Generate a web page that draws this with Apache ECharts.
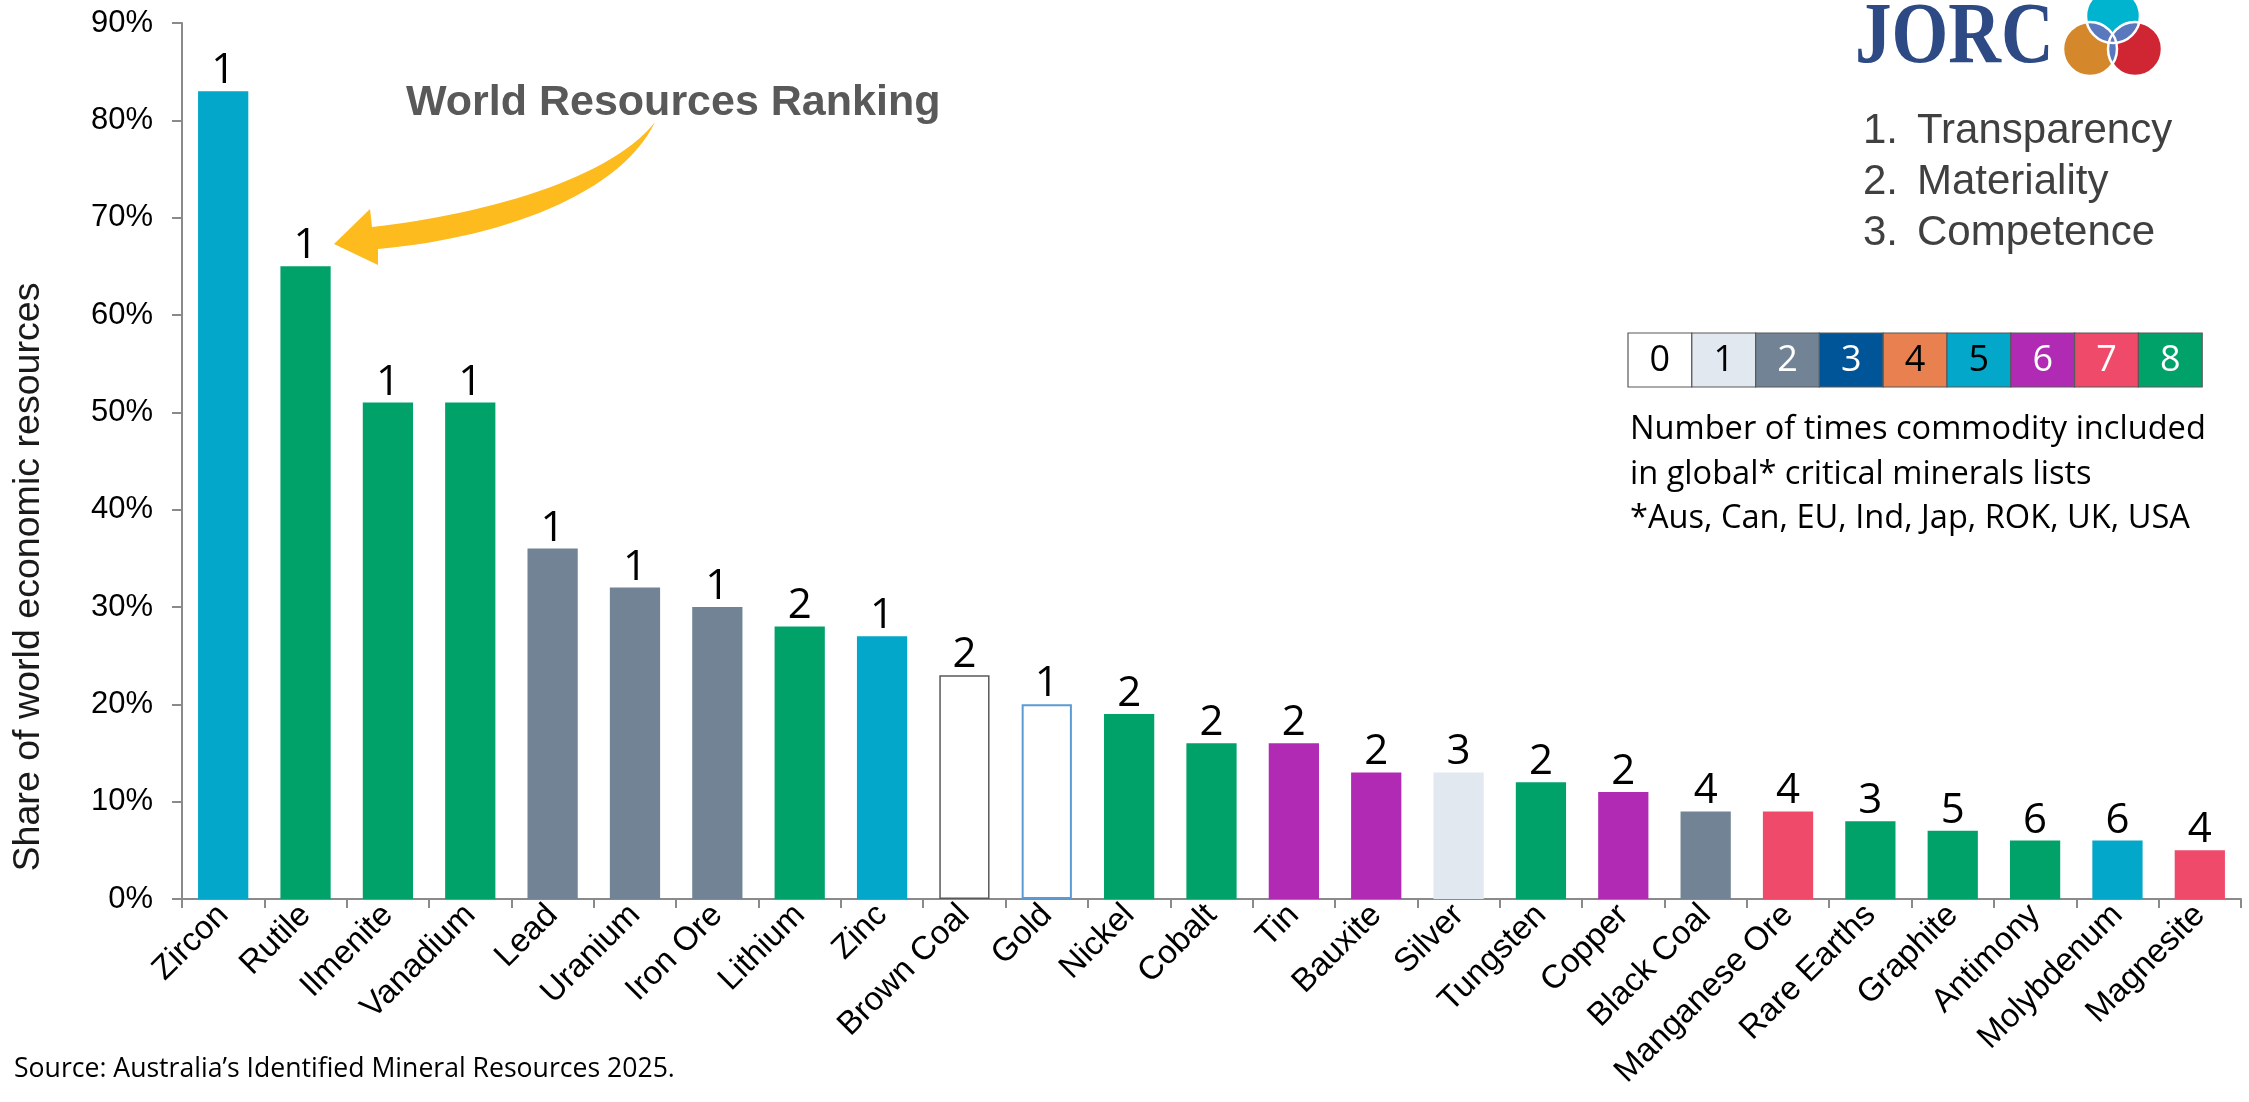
<!DOCTYPE html>
<html><head><meta charset="utf-8">
<script src="https://cdn.jsdelivr.net/npm/echarts@6/dist/echarts.min.js"></script>
<style>html,body{margin:0;padding:0;background:#fff}#c{width:2249px;height:1102px}</style>
</head><body><div id="c"></div>
<script>
const categories = ['Zircon','Rutile','Ilmenite','Vanadium','Lead','Uranium','Iron Ore','Lithium','Zinc','Brown Coal','Gold','Nickel','Cobalt','Tin','Bauxite','Silver','Tungsten','Copper','Black Coal','Manganese Ore','Rare Earths','Graphite','Antimony','Molybdenum','Magnesite'];
const shareValues = [83,65,51,51,36,32,30,28,27,23,20,19,16,16,13,13,12,11,9,9,8,7,6,6,5];
const worldRanking = [1,1,1,1,1,1,1,2,1,2,1,2,2,2,2,3,2,2,4,4,3,5,6,6,4];
const listCounts = [5,8,8,8,2,2,2,8,5,0,0,8,8,6,6,1,8,6,2,7,8,8,8,5,7];
const legendCounts = [0,1,2,3,4,5,6,7,8];
const yTickValues = [0,10,20,30,40,50,60,70,80,90];
const principles = ['Transparency','Materiality','Competence'];
const legendLines = ['Number of times commodity included','in global* critical minerals lists','*Aus, Can, EU, Ind, Jap, ROK, UK, USA'];

const palette = ['#FFFFFF','#E1E8F0','#718394','#005598','#E98050','#02A7C9','#B02AB4','#EF4A6A','#00A26A'];
const paletteText = ['#000','#000','#fff','#fff','#000','#000','#fff','#fff','#fff'];

const chart = echarts.init(document.getElementById('c'), null, {renderer:'canvas'});

const barData = shareValues.map((v,i)=>{
  const c = listCounts[i];
  const st = {color: palette[c]};
  if (c === 0) {
    st.borderColor = categories[i] === 'Gold' ? '#5B9BD5' : '#595959';
    st.borderWidth = categories[i] === 'Gold' ? 2 : 1.5;
  }
  return {value: v, itemStyle: st};
});

const graphics = [];
function bez(p0,p1,p2,p3,n){
  const out=[];
  for(let k=0;k<=n;k++){const t=k/n,u=1-t;
    out.push([u*u*u*p0[0]+3*u*u*t*p1[0]+3*u*t*t*p2[0]+t*t*t*p3[0], u*u*u*p0[1]+3*u*u*t*p1[1]+3*u*t*t*p2[1]+t*t*t*p3[1]]);}
  return out;
}
const arrowPts = [].concat(
  bez([655,122],[610,180],[480,215],[372,227],30),
  [[370,209],[334,244],[378,265]],
  bez([378,249],[500,238],[620,195],[655,122],30)
);
graphics.push({type:'polygon', shape:{points:arrowPts}, style:{fill:'#FDBB1E'}});
graphics.push({type:'text', x:406, y:103, style:{text:'World Resources Ranking', font:'bold 43px "Liberation Sans", Arial', fill:'#595959', verticalAlign:'middle'}});

// JORC logo
graphics.push({type:'text', x:1855, y:40, scaleY:1.18, style:{text:'JORC', font:'bold 73px "Liberation Serif", "Times New Roman"', fill:'#2D4A85', verticalAlign:'middle', align:'left'}});
const circles = [{x:2113,y:16,r:27,c:'#00B4D0'},{x:2090,y:49,r:27,c:'#D4872B'},{x:2135,y:49,r:27,c:'#D02634'}];
circles.forEach(ci=>graphics.push({type:'circle', shape:{cx:ci.x, cy:ci.y, r:ci.r}, style:{fill:ci.c}}));
function lens(a,b){
  const d = Math.hypot(b.x-a.x, b.y-a.y), r = a.r;
  const al = Math.acos(d/(2*r)), th = Math.atan2(b.y-a.y, b.x-a.x);
  const pts = [];
  const N = 24;
  for (let k=0;k<=N;k++){const f=th-al+2*al*k/N; pts.push([a.x+r*Math.cos(f), a.y+r*Math.sin(f)]);}
  const th2 = th+Math.PI;
  for (let k=0;k<=N;k++){const f=th2-al+2*al*k/N; pts.push([b.x+r*Math.cos(f), b.y+r*Math.sin(f)]);}
  return pts;
}
[[0,1],[0,2],[1,2]].forEach(([i,j])=>graphics.push({type:'polygon', shape:{points:lens(circles[i],circles[j])}, style:{fill:'#5A78BD'}}));
circles.forEach(ci=>graphics.push({type:'circle', shape:{cx:ci.x, cy:ci.y, r:ci.r}, style:{fill:null, stroke:'#fff', lineWidth:2.5}}));

// principles list
principles.forEach((p,i)=>{
  const y = 131 + i*51;
  graphics.push({type:'text', x:1863, y:y, style:{text:(i+1)+'.', font:'42px "Liberation Sans", Arial', fill:'#404040', verticalAlign:'middle'}});
  graphics.push({type:'text', x:1917, y:y, style:{text:p, font:'42px "Liberation Sans", Arial', fill:'#404040', verticalAlign:'middle'}});
});

// legend boxes
const bx0 = 1628, bw = 63.8, by = 333, bh = 54;
legendCounts.forEach((n,i)=>{
  graphics.push({type:'rect', shape:{x:bx0+i*bw, y:by, width:bw, height:bh}, style:{fill:palette[n], stroke:'#595959', lineWidth:1.2}});
  graphics.push({type:'text', x:bx0+i*bw+bw/2, y:by+bh/2+1, style:{text:String(n), font:'36px "Open Sans"', fill:paletteText[n], align:'center', verticalAlign:'middle'}});
});
legendLines.forEach((t,i)=>{
  graphics.push({type:'text', x:1630, y:430+i*44.5, style:{text:t, font:'32.6px "Open Sans"', fill:'#000', verticalAlign:'middle'}});
});

// y axis title
graphics.push({type:'text', x:29, y:577, rotation:Math.PI/2, style:{text:'Share of world economic resources', font:'37.6px "Liberation Sans", Arial', fill:'#1a1a1a', align:'center', verticalAlign:'middle'}});
// source
graphics.push({type:'text', x:14, y:1069, style:{text:'Source: Australia\u2019s Identified Mineral Resources 2025.', font:'26.6px "Open Sans"', fill:'#000', verticalAlign:'middle'}});

const axisColor = '#8a8a8a';
chart.setOption({
  animation:false,
  backgroundColor:'#fff',
  grid:{left:182, right:8, top:23, bottom:203, containLabel:false},
  xAxis:{type:'category', data:categories,
    axisLine:{lineStyle:{color:axisColor, width:2}},
    axisTick:{show:true, length:9, lineStyle:{color:axisColor, width:2}},
    axisLabel:{interval:0, rotate:45, fontSize:33, fontFamily:'"Liberation Sans", Arial', color:'#000', margin:11}},
  yAxis:{type:'value', min:0, max:90, interval:10,
    axisLine:{show:true, lineStyle:{color:axisColor, width:2}},
    axisTick:{show:true, length:10, lineStyle:{color:axisColor, width:2}},
    splitLine:{show:false},
    axisLabel:{formatter:v=>yTickValues.includes(v)?v+'%':'', fontSize:31, fontFamily:'"Liberation Sans", Arial', color:'#000', margin:29}},
  series:[{type:'bar', data:barData, barCategoryGap:'39%',
    label:{show:true, position:'top', distance:-1, fontSize:42, fontFamily:'"Open Sans"', color:'#000',
      formatter:p=>String(worldRanking[p.dataIndex])}}],
  graphic:graphics
});
</script></body></html>
